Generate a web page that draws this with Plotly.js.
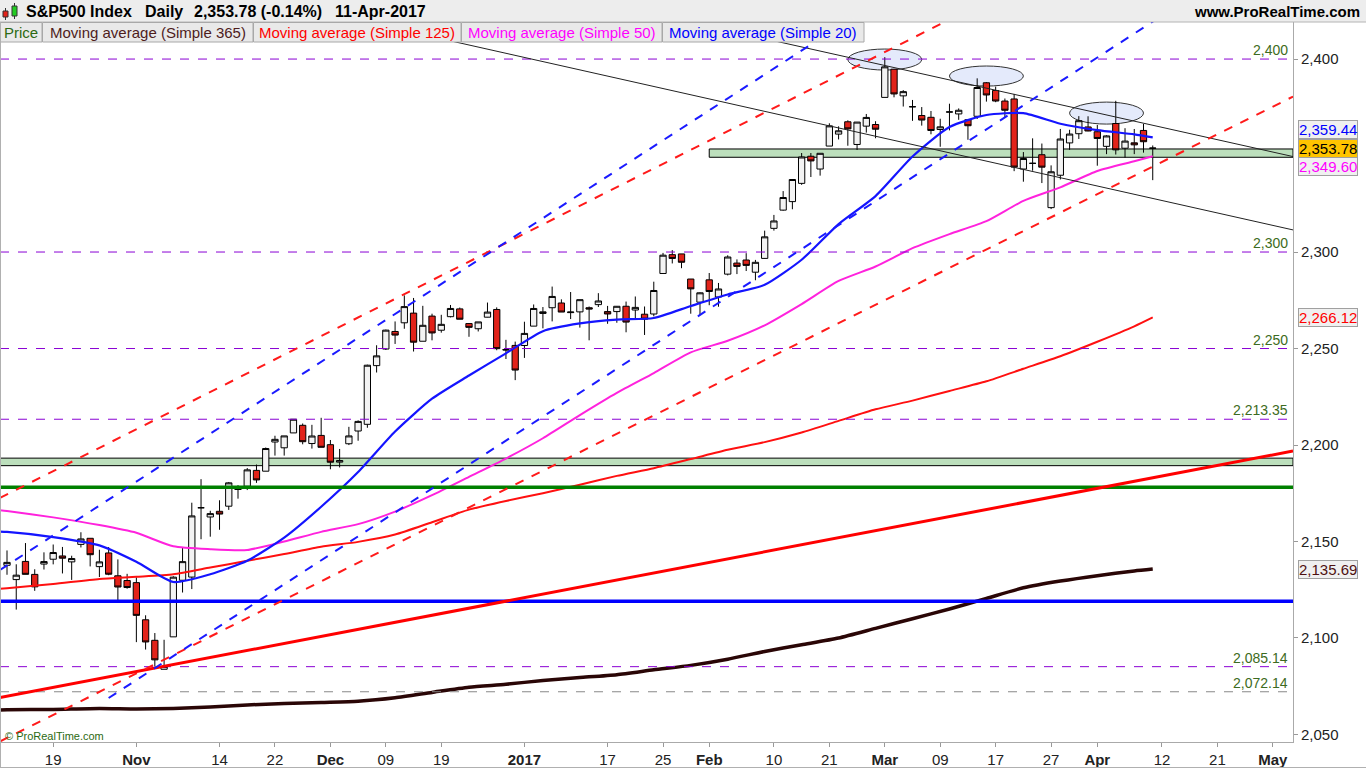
<!DOCTYPE html>
<html><head><meta charset="utf-8">
<script src="https://cdn.plot.ly/plotly-3.0.1.min.js"></script>
<style>html,body{margin:0;padding:0;background:#fff;overflow:hidden}#chart{width:1366px;height:768px}</style>
</head><body><div id="chart"></div>
<script>
// ---------------- DATA ----------------
const dates = ['2016-10-12','2016-10-13','2016-10-14','2016-10-17','2016-10-18','2016-10-19','2016-10-20','2016-10-21','2016-10-24','2016-10-25','2016-10-26','2016-10-27','2016-10-28','2016-10-31',
'2016-11-01','2016-11-02','2016-11-03','2016-11-04','2016-11-07','2016-11-08','2016-11-09','2016-11-10','2016-11-11','2016-11-14','2016-11-15','2016-11-16','2016-11-17','2016-11-18','2016-11-21','2016-11-22','2016-11-23','2016-11-25','2016-11-28','2016-11-29','2016-11-30',
'2016-12-01','2016-12-02','2016-12-05','2016-12-06','2016-12-07','2016-12-08','2016-12-09','2016-12-12','2016-12-13','2016-12-14','2016-12-15','2016-12-16','2016-12-19','2016-12-20','2016-12-21','2016-12-22','2016-12-23','2016-12-27','2016-12-28','2016-12-29','2016-12-30',
'2017-01-03','2017-01-04','2017-01-05','2017-01-06','2017-01-09','2017-01-10','2017-01-11','2017-01-12','2017-01-13','2017-01-17','2017-01-18','2017-01-19','2017-01-20','2017-01-23','2017-01-24','2017-01-25','2017-01-26','2017-01-27','2017-01-30','2017-01-31',
'2017-02-01','2017-02-02','2017-02-03','2017-02-06','2017-02-07','2017-02-08','2017-02-09','2017-02-10','2017-02-13','2017-02-14','2017-02-15','2017-02-16','2017-02-17','2017-02-21','2017-02-22','2017-02-23','2017-02-24','2017-02-27','2017-02-28',
'2017-03-01','2017-03-02','2017-03-03','2017-03-06','2017-03-07','2017-03-08','2017-03-09','2017-03-10','2017-03-13','2017-03-14','2017-03-15','2017-03-16','2017-03-17','2017-03-20','2017-03-21','2017-03-22','2017-03-23','2017-03-24','2017-03-27','2017-03-28','2017-03-29','2017-03-30','2017-03-31',
'2017-04-03','2017-04-04','2017-04-05','2017-04-06','2017-04-07','2017-04-10','2017-04-11'];

const open = [2137.67,2130.26,2139.68,2132.95,2138.31,2140.81,2142.51,2139.43,2148.50,2151.66,2136.97,2144.06,2132.23,2129.78,
2128.68,2109.43,2098.80,2083.79,2100.59,2129.92,2131.56,2167.49,2162.71,2165.64,2168.29,2177.53,2178.61,2186.85,2186.43,2201.56,2198.55,2206.27,2210.21,2200.76,2204.97,
2200.17,2191.12,2200.65,2207.26,2210.72,2241.13,2249.73,2258.83,2263.32,2268.35,2253.77,2266.81,2259.48,2266.50,2270.54,2262.93,2260.25,2266.23,2270.23,2249.50,2251.61,
2251.57,2261.60,2268.18,2271.14,2273.59,2268.60,2268.98,2271.14,2272.74,2269.14,2269.14,2271.90,2269.96,2267.78,2267.88,2288.88,2298.63,2299.02,2286.01,2274.02,
2285.59,2276.69,2288.54,2294.28,2295.87,2289.55,2296.70,2312.27,2321.72,2326.12,2335.58,2349.64,2343.01,2354.91,2361.11,2367.50,2355.73,2365.23,2366.08,
2380.13,2394.75,2380.92,2375.23,2370.74,2369.81,2363.49,2372.52,2371.56,2368.55,2370.34,2387.71,2383.71,2378.24,2379.32,2343.00,2345.97,2350.42,2323.00,2339.79,2356.54,2361.31,2364.82,
2362.34,2354.76,2366.59,2353.79,2356.59,2363.00,2353.92];

const high = [2145.36,2138.19,2149.19,2135.61,2144.38,2148.44,2147.18,2142.63,2154.79,2151.66,2145.73,2147.13,2140.72,2133.25,
2131.45,2111.76,2102.56,2099.07,2132.00,2146.87,2170.10,2182.30,2165.92,2171.36,2180.84,2179.22,2188.06,2189.89,2198.70,2204.80,2204.72,2213.35,2211.14,2210.46,2214.10,
2202.60,2197.95,2209.42,2212.78,2241.63,2251.69,2259.80,2264.03,2277.53,2276.20,2272.12,2268.05,2267.47,2272.56,2271.23,2263.18,2263.79,2273.82,2271.31,2254.51,2253.58,
2263.88,2272.82,2271.50,2282.10,2275.49,2279.27,2275.32,2271.78,2278.68,2272.08,2272.01,2274.33,2276.96,2271.78,2284.63,2299.55,2300.99,2299.02,2286.01,2279.09,
2289.14,2283.97,2298.31,2296.18,2299.40,2295.91,2311.08,2319.23,2331.58,2337.58,2351.30,2351.31,2351.16,2366.71,2365.13,2368.26,2367.34,2371.54,2367.79,
2400.98,2394.75,2383.89,2378.80,2375.12,2373.09,2369.08,2376.86,2374.42,2368.55,2390.01,2388.10,2385.71,2379.55,2381.93,2351.81,2358.92,2356.22,2344.90,2363.78,2363.36,2370.42,2370.35,
2365.87,2360.53,2378.36,2364.16,2363.76,2366.37,2355.22];

const low = [2132.77,2114.72,2132.98,2124.43,2135.49,2138.15,2133.44,2130.09,2146.91,2137.09,2131.59,2132.52,2119.36,2125.53,
2097.85,2094.00,2085.23,2083.79,2100.59,2123.56,2125.35,2151.17,2152.49,2156.08,2166.38,2172.20,2176.65,2180.38,2186.43,2194.51,2194.51,2206.27,2200.36,2198.15,2198.81,
2187.44,2188.37,2199.97,2202.21,2208.93,2237.57,2249.23,2252.37,2260.24,2248.44,2253.77,2254.24,2258.21,2266.14,2265.15,2256.08,2258.84,2266.15,2249.11,2244.56,2233.62,
2245.13,2261.60,2260.45,2264.06,2268.90,2265.27,2260.83,2254.25,2271.51,2262.81,2263.35,2258.41,2265.01,2257.02,2266.68,2288.88,2294.08,2291.62,2268.04,2267.21,
2272.44,2271.65,2287.88,2288.57,2290.16,2285.38,2296.61,2311.10,2321.42,2322.17,2334.81,2338.87,2339.58,2354.91,2358.34,2355.09,2352.87,2361.87,2358.96,
2380.13,2380.17,2375.39,2367.98,2365.51,2361.01,2354.54,2363.04,2368.52,2358.18,2368.94,2377.94,2377.64,2369.66,2341.90,2336.45,2342.13,2335.74,2322.25,2337.63,2352.94,2358.58,2362.60,
2344.73,2350.72,2350.52,2348.90,2350.74,2351.50,2337.25];

const close = [2139.18,2132.55,2132.98,2126.50,2139.60,2144.29,2141.34,2141.16,2151.33,2143.16,2139.43,2133.04,2126.41,2126.15,
2111.72,2097.94,2088.66,2085.18,2131.52,2139.56,2163.26,2167.48,2164.45,2164.20,2180.39,2176.94,2187.12,2181.90,2198.18,2202.94,2204.72,2213.35,2201.72,2204.66,2198.81,
2191.08,2191.95,2204.71,2212.23,2241.35,2246.19,2259.53,2256.96,2271.72,2253.28,2262.03,2258.07,2262.53,2270.76,2265.18,2260.96,2263.79,2268.88,2249.92,2249.26,2238.83,
2257.83,2270.75,2269.00,2276.98,2268.90,2268.90,2275.32,2270.44,2274.64,2267.89,2271.89,2263.69,2271.31,2265.20,2280.07,2298.37,2296.68,2294.69,2280.90,2278.87,
2279.55,2280.85,2297.42,2292.56,2293.08,2294.67,2307.87,2316.10,2328.25,2337.58,2349.25,2347.22,2351.16,2365.38,2362.82,2363.81,2367.34,2369.75,2363.64,
2395.96,2381.92,2383.12,2375.31,2368.39,2362.98,2364.87,2372.60,2373.47,2365.45,2385.26,2381.38,2378.25,2373.47,2344.02,2348.45,2345.96,2343.98,2341.59,2358.57,2361.13,2368.06,2362.72,
2358.84,2360.16,2352.95,2357.49,2355.54,2357.16,2353.78];

const prevDates = ['2016-10-11'];
const futureDates = ['2017-04-12','2017-04-13','2017-04-17','2017-04-18','2017-04-19','2017-04-20','2017-04-21','2017-04-24','2017-04-25','2017-04-26','2017-04-27','2017-04-28','2017-05-01','2017-05-02','2017-05-03'];

// moving averages
const maDates = ['2016-10-11','2016-10-12','2016-10-19','2016-10-26','2016-11-01','2016-11-07','2016-11-11','2016-11-17','2016-11-23','2016-11-30','2016-12-06','2016-12-12','2016-12-16','2016-12-22','2016-12-29','2017-01-05','2017-01-11','2017-01-18','2017-01-24','2017-01-30','2017-02-03','2017-02-09','2017-02-15','2017-02-22','2017-02-28','2017-03-06','2017-03-10','2017-03-16','2017-03-22','2017-03-28','2017-04-03','2017-04-07','2017-04-11'];
const sma20 = [2155.2,2155,2152.3,2148,2139.5,2129,2133,2140,2152,2168,2186,2207,2224,2236,2247.5,2259,2263,2265,2265.8,2272,2278,2283,2296,2314.5,2329,2349.5,2364.8,2371,2372,2366.5,2363.2,2361,2359.44];
const sma50 = [2166.3,2165.8,2162.5,2158.5,2154.5,2147.5,2146,2145.6,2150,2155,2159,2165.5,2174,2183.5,2193,2203.5,2215.5,2227,2237.3,2248,2254,2262,2273,2285,2292.5,2302,2309.3,2316,2326.5,2333.5,2342,2347,2349.6];
const sma125 = [2125.4,2125.8,2128,2130.6,2131.7,2133,2136.5,2140,2143.5,2147.3,2149.8,2153.6,2160,2166.5,2171,2175,2179.4,2184,2188,2192.7,2197.5,2201.5,2206.5,2212.5,2218.5,2223,2228,2233,2239.5,2246,2253.5,2261.5,2266.12];
const sma365 = [2062.7,2062.8,2063,2063.5,2063.2,2063.5,2064.3,2065.3,2066,2066.6,2067.2,2069,2071.8,2074.5,2076,2078,2079.5,2081,2083.5,2085.8,2089,2093,2096.5,2100,2105,2110,2115,2120.5,2126,2129.5,2132.3,2134.7,2135.69];

const tickDates = ['2016-10-19','2016-11-01','2016-11-14','2016-11-22','2016-12-01','2016-12-09','2016-12-19','2017-01-03','2017-01-17','2017-01-25','2017-02-01','2017-02-10','2017-02-21','2017-03-01','2017-03-09','2017-03-17','2017-03-27','2017-04-03','2017-04-12','2017-04-21','2017-05-01'];
const tickLabels = ['19','Nov','14','22','Dec','09','19','2017','17','25','Feb','10','21','Mar','09','17','27','Apr','12','21','May'];
const yTicks = [2050,2100,2150,2200,2250,2300,2400];

const levelValues = [2400,2300,2250,2213.35,2085.14];
const grayLevel = 2072.14;
const bandUpper = [2349.1,2353.4];
const bandUpperStart = '2017-02-01';
const bandLower = [2189.3,2193.2];
const greenLevel = 2178.1;
const blueLevel = 2119.0;

const redThick = [['2016-10-12',2069.8],['2017-04-11',2183.0]];
const redDashUpper = [['2016-10-12',2174.4],['2017-02-07',2367.4]];
const redDashLower = [['2016-10-12',2048.2],['2017-04-11',2344.3]];
const blueDashUpper = [['2016-10-12',2137.6],['2017-02-07',2385.8]];
const blueDashLower = [['2016-10-27',2068.9],['2017-04-11',2419.4]];
const blackUpper = [['2017-02-22',2402.0],['2017-05-01',2351.8]];
const blackLower = [['2017-02-22',2364.3],['2017-05-01',2313.8]];

const ellipses = [['2017-02-23','2017-03-07',2394.3,2405.2],['2017-03-10','2017-03-22',2386.0,2396.4],['2017-03-29','2017-04-10',2366.3,2377.7]];

const lastValues = [2359.44,2353.78,2349.60,2266.12,2135.69];

// ---------------- BUILD ----------------
const allDates = prevDates.concat(dates, futureDates);
const OFF = prevDates.length;
const idx = d => allDates.indexOf(d) - OFF;
const W = 1366, H = 768, PL = 0, PR = 1293, PT = 22, PB = 742;
const XR = [-0.758, 139.18];
const YR = [2046.1, 2419.2];
const PX = x => (x - PL) / (PR - PL);
const PY = y => (PB - y) / (PB - PT);
const fmt = v => v.toLocaleString('en-US', {minimumFractionDigits: (v % 1 ? 2 : 0), maximumFractionDigits: 2});
const FONT = 'Arial, Liberation Sans, sans-serif';

const traces = [];
const maStyle = [[sma365,'#2a0606',3.5],[sma125,'#ff1010',2],[sma50,'#ff22dd',2],[sma20,'#1414ff',2.2]];
maStyle.forEach(([arr,c,w]) => traces.push({type:'scatter',mode:'lines',x:maDates.map(idx),y:arr,
  line:{color:c,width:w,shape:'spline',smoothing:0.6},hoverinfo:'skip',showlegend:false}));
traces.push({type:'candlestick', x:dates.map(idx), open:open, high:high, low:low, close:close,
  increasing:{line:{color:'#000',width:1},fillcolor:'#f3f3f3'},
  decreasing:{line:{color:'#000',width:1},fillcolor:'#e2231a'},
  whiskerwidth:0, hoverinfo:'skip', showlegend:false});

const shapes = [];
shapes.push({type:'rect',layer:'below',xref:'x',yref:'y',x0:idx(bandUpperStart),x1:XR[1],y0:bandUpper[0],y1:bandUpper[1],fillcolor:'#bcdfbc',line:{color:'#000',width:1}});
shapes.push({type:'rect',layer:'below',xref:'paper',yref:'y',x0:0,x1:1,y0:bandLower[0],y1:bandLower[1],fillcolor:'#bcdfbc',line:{color:'#000',width:1}});
ellipses.forEach(e => shapes.push({type:'circle',layer:'below',xref:'x',yref:'y',x0:idx(e[0]),x1:idx(e[1]),y0:e[2],y1:e[3],fillcolor:'#e4eafb',line:{color:'#333',width:1}}));
levelValues.forEach(v => shapes.push({type:'line',layer:'above',xref:'paper',yref:'y',x0:0,x1:1,y0:v,y1:v,line:{color:'#8a00d4',width:1,dash:'dash'}}));
shapes.push({type:'line',layer:'above',xref:'paper',yref:'y',x0:0,x1:1,y0:grayLevel,y1:grayLevel,line:{color:'#888',width:1,dash:'dash'}});
shapes.push({type:'line',layer:'above',xref:'paper',yref:'y',x0:0,x1:1,y0:greenLevel,y1:greenLevel,line:{color:'#008000',width:3.5}});
shapes.push({type:'line',layer:'above',xref:'paper',yref:'y',x0:0,x1:1,y0:blueLevel,y1:blueLevel,line:{color:'#0000ff',width:3.5}});
function tline(pts, extL, extR, style){
  const x0 = idx(pts[0][0]), y0 = pts[0][1], x1 = idx(pts[1][0]), y1 = pts[1][1];
  const m = (y1 - y0) / (x1 - x0);
  const a = extL ? XR[0] : x0, b = extR ? XR[1] : x1;
  return {type:'line',layer:'above',xref:'x',yref:'y',x0:a,y0:y0+m*(a-x0),x1:b,y1:y0+m*(b-x0),line:style};
}
shapes.push(tline(redThick,true,true,{color:'#ff0000',width:3}));
shapes.push(tline(blackUpper,true,true,{color:'#222',width:1}));
shapes.push(tline(blackLower,true,true,{color:'#222',width:1}));
shapes.push(tline(redDashUpper,true,true,{color:'#ff1a1a',width:2,dash:'dash'}));
shapes.push(tline(redDashLower,true,true,{color:'#ff1a1a',width:2,dash:'dash'}));
shapes.push(tline(blueDashUpper,true,true,{color:'#1a1aff',width:2,dash:'dash'}));
shapes.push(tline(blueDashLower,false,true,{color:'#1a1aff',width:2,dash:'dash'}));
// chrome
shapes.push({type:'rect',layer:'above',xref:'paper',yref:'paper',x0:PX(0),x1:PX(W),y0:PY(0),y1:PY(22),fillcolor:'#ededed',line:{width:0}});
shapes.push({type:'line',layer:'above',xref:'paper',yref:'paper',x0:PX(0),x1:PX(W),y0:PY(22),y1:PY(22),line:{color:'#b4b4b4',width:1}});
const legendCells = [[0,42],[42,253],[253,461],[461,662],[662,864]];
legendCells.forEach(c => shapes.push({type:'rect',layer:'above',xref:'paper',yref:'paper',x0:PX(c[0]+0.5),x1:PX(c[1]),y0:PY(22.5),y1:PY(42),fillcolor:'#e9e9e9',line:{color:'#a8a8a8',width:1}}));
shapes.push({type:'line',layer:'above',xref:'paper',yref:'paper',x0:PX(0),x1:PX(W),y0:PY(767.5),y1:PY(767.5),line:{color:'#b0b0b0',width:1}});
shapes.push({type:'line',layer:'above',xref:'paper',yref:'paper',x0:PX(0.5),x1:PX(0.5),y0:PY(22),y1:PY(768),line:{color:'#b0b0b0',width:1}});
shapes.push({type:'line',layer:'above',xref:'paper',yref:'paper',x0:PX(5.5),x1:PX(5.5),y0:PY(8),y1:PY(20),line:{color:'#333',width:1}});
shapes.push({type:'rect',layer:'above',xref:'paper',yref:'paper',x0:PX(3),x1:PX(8),y0:PY(11),y1:PY(17),fillcolor:'#e2231a',line:{color:'#333',width:1}});
shapes.push({type:'line',layer:'above',xref:'paper',yref:'paper',x0:PX(14.5),x1:PX(14.5),y0:PY(3),y1:PY(19),line:{color:'#333',width:1}});
shapes.push({type:'rect',layer:'above',xref:'paper',yref:'paper',x0:PX(12),x1:PX(17),y0:PY(6),y1:PY(16),fillcolor:'#22cc22',line:{color:'#333',width:1}});

const ann = [];
const A = (o) => ann.push(Object.assign({showarrow:false,xref:'paper',yref:'paper'},o));
const titleParts = [['S&P500 Index',24],['Daily',143],['2,353.78 (-0.14%)',192],['11-Apr-2017',333]];
titleParts.forEach(t => A({text:'<b>'+t[0]+'</b>',x:PX(t[1]),y:PY(11.5),xanchor:'left',yanchor:'middle',font:{family:FONT,size:16,color:'#000'}}));
A({text:'<b>www.ProRealTime.com</b>',x:PX(1362),y:PY(11.5),xanchor:'right',yanchor:'middle',font:{family:FONT,size:15,color:'#000'}});
const legendTexts = [['Price','#2c6a12'],['Moving average (Simple 365)','#4e1c1c'],['Moving average (Simple 125)','#ff0000'],['Moving average (Simple 50)','#ff00ff'],['Moving average (Simple 20)','#0000ff']];
legendTexts.forEach((t,i) => A({text:t[0],x:PX((legendCells[i][0]+legendCells[i][1])/2),y:PY(32.5),xanchor:'center',yanchor:'middle',font:{family:FONT,size:15,color:t[1]}}));
A({text:'© ProRealTime.com',x:PX(3),y:PY(736),xanchor:'left',yanchor:'middle',font:{family:FONT,size:11,color:'#2c6a12'}});
levelValues.concat([grayLevel]).forEach(v => A({text:fmt(v),yref:'y',x:PX(1290),y:v,xanchor:'right',yanchor:'bottom',yshift:-1,font:{family:FONT,size:14,color:'#3d6b21'}}));
const boxStyle = [['#0000ff','#f0f0f0',8],['#000000','#ffc400',0],['#ff00ff','#f0f0f0',-10],['#ff0000','#f0f0f0',0],['#4e1010','#f0f0f0',0]];
lastValues.forEach((v,i) => A({text:fmt(v),yref:'y',x:PX(1298),y:v,xanchor:'left',yanchor:'middle',yshift:boxStyle[i][2],
  bgcolor:boxStyle[i][1],bordercolor:'#a0a0a0',borderwidth:1,borderpad:0,font:{family:FONT,size:15,color:boxStyle[i][0]}}));

const layout = {
  width:W,height:H,margin:{l:PL,r:W-PR,t:PT,b:H-PB,autoexpand:false},
  paper_bgcolor:'#ffffff',plot_bgcolor:'#ffffff',showlegend:false,
  boxgap:0.32,boxgroupgap:0,
  xaxis:{type:'linear',range:XR,tickvals:tickDates.map(idx),
    ticktext:tickLabels.map(t => /[A-Za-z]/.test(t) || t.length === 4 ? '<b>'+t+'</b>' : t),
    showgrid:false,zeroline:false,showline:true,linecolor:'#aaaaaa',ticks:'outside',ticklen:4,tickcolor:'#999',
    tickfont:{family:FONT,size:15,color:'#222'},rangeslider:{visible:false},fixedrange:true},
  yaxis:{side:'right',range:YR,tickvals:yTicks,tickformat:',d',showgrid:false,zeroline:false,showline:true,
    linecolor:'#aaaaaa',ticks:'outside',ticklen:4,tickcolor:'#999',tickfont:{family:FONT,size:15,color:'#222'},fixedrange:true},
  shapes:shapes,annotations:ann
};
Plotly.newPlot('chart',traces,layout,{displayModeBar:false,staticPlot:true});
</script></body></html>
